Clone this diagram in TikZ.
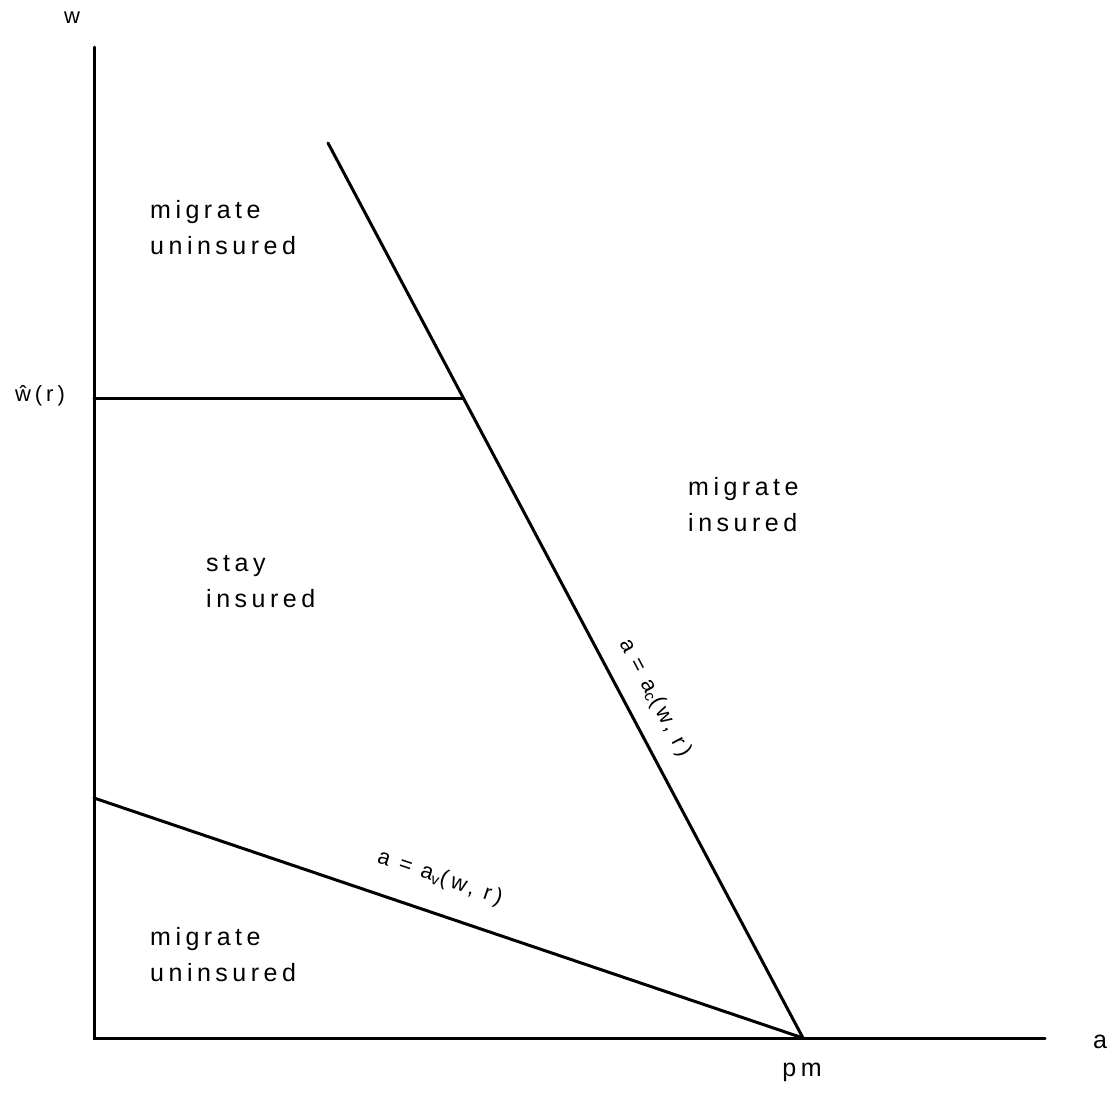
\documentclass[tikz,border=0pt]{standalone}
\usepackage{fontspec}
\setmainfont{Liberation Sans}[LetterSpace=18]
\begin{document}
\begin{tikzpicture}[x=1pt,y=-1pt,
  ln/.style={line width=3pt,line cap=round},
  lbl/.style={font=\fontsize{25}{36}\selectfont, align=left, inner sep=0pt},
  sml/.style={font=\fontsize{22}{26}\selectfont, inner sep=0pt}]
\useasboundingbox (0,0) rectangle (1118,1096);
\coordinate (O) at (94,1038);
\coordinate (ytop) at (94,47);
\coordinate (xend) at (1045,1038);
\coordinate (pm) at (803,1038);
\coordinate (ctop) at (328,143);
\coordinate (wh) at (94,398);
\coordinate (whc) at (463,398);
\coordinate (vl) at (94,798);
\draw[ln] (ytop) -- (O) -- (xend);
\draw[ln] (ctop) -- (pm);
\draw[ln] (wh) -- (whc);
\draw[ln] (vl) -- (pm);
\node[sml] (wlab) at (72,18) {w};
\node[sml] (whlab) at (40,396) {ŵ(r)};
\node[lbl] (alab) at (1100,1042) {a};
\node[lbl] (pmlab) at (802,1072) {pm};
\node[lbl,anchor=west] (r1) at (150,228) {migrate\\uninsured};
\node[lbl,anchor=west] (r2) at (688,505) {migrate\\insured};
\node[lbl,anchor=west] (r3) at (206,582) {stay\\insured};
\node[lbl,anchor=west] (r4) at (150,955) {migrate\\uninsured};
\node[sml,rotate=-62.1] (aclab) at (655,698) {a = a\textsubscript{c}(w, r)};
\node[sml,rotate=-18.8] (avlab) at (440,878) {a = a\textsubscript{v}(w, r)};
\end{tikzpicture}
\end{document}
